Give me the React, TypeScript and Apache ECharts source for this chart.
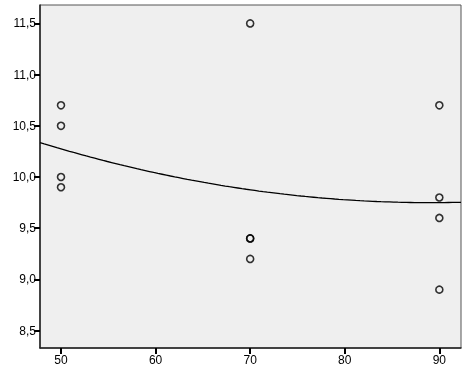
import React, { useEffect, useRef } from "react";
import * as echarts from "echarts";

const xValues = [50, 50, 50, 50, 70, 70, 70, 70, 90, 90, 90, 90];
const yValues = [10.7, 10.5, 10.0, 9.9, 11.5, 9.4, 9.4, 9.2, 10.7, 9.8, 9.6, 8.9];
const xTicks = [50, 60, 70, 80, 90];
const yTicks = [8.5, 9.0, 9.5, 10.0, 10.5, 11.0, 11.5];
const xMin = 47.78;
const xMax = 92.29;
const yMin = 8.33;
const yMax = 11.68;

function solve3(A: number[][], b: number[]): number[] {
  const M = A.map((r, i) => [...r, b[i]]);
  for (let i = 0; i < 3; i++) {
    let p = i;
    for (let k = i + 1; k < 3; k++) if (Math.abs(M[k][i]) > Math.abs(M[p][i])) p = k;
    [M[i], M[p]] = [M[p], M[i]];
    for (let k = i + 1; k < 3; k++) {
      const f = M[k][i] / M[i][i];
      for (let j = i; j < 4; j++) M[k][j] -= f * M[i][j];
    }
  }
  const x = [0, 0, 0];
  for (let i = 2; i >= 0; i--) {
    let s = M[i][3];
    for (let j = i + 1; j < 3; j++) s -= M[i][j] * x[j];
    x[i] = s / M[i][i];
  }
  return x;
}

function quadFit(xs: number[], ys: number[]): number[] {
  const S = (p: number) => xs.reduce((a, x) => a + Math.pow(x, p), 0);
  const T = (p: number) => xs.reduce((a, x, i) => a + Math.pow(x, p) * ys[i], 0);
  const A = [
    [S(0), S(1), S(2)],
    [S(1), S(2), S(3)],
    [S(2), S(3), S(4)],
  ];
  return solve3(A, [T(0), T(1), T(2)]);
}

export default function App() {
  const ref = useRef<HTMLDivElement>(null);
  useEffect(() => {
    if (!ref.current) return;
    const chart = echarts.init(ref.current, undefined, { renderer: "svg" });
    const [c0, c1, c2] = quadFit(xValues, yValues);
    const fit: number[][] = [];
    const n = 100;
    for (let i = 0; i <= n; i++) {
      const x = xMin + ((xMax - xMin) * i) / n;
      fit.push([x, c0 + c1 * x + c2 * x * x]);
    }
    const fmt = (v: number) => v.toFixed(1).replace(".", ",");
    chart.setOption({
      animation: false,
      grid: {
        left: 40,
        top: 5,
        right: 10,
        bottom: 30,
        show: true,
        backgroundColor: "#efefef",
        borderColor: "#555",
        borderWidth: 1,
      },
      xAxis: {
        type: "value",
        min: xMin,
        max: xMax,
        splitLine: { show: false },
        axisLine: { show: true, lineStyle: { color: "#222", width: 1.5 } },
        axisTick: { show: true, length: 6, customValues: xTicks, lineStyle: { color: "#000", width: 2 } },
        axisLabel: {
          customValues: xTicks,
          color: "#000",
          fontSize: 12,
          fontFamily: "Liberation Sans, Arial, sans-serif",
          margin: 6,
        },
      },
      yAxis: {
        type: "value",
        min: yMin,
        max: yMax,
        splitLine: { show: false },
        axisLine: { show: true, lineStyle: { color: "#222", width: 1.5 } },
        axisTick: { show: true, length: 6, customValues: yTicks, lineStyle: { color: "#000", width: 2 } },
        axisLabel: {
          customValues: yTicks,
          formatter: fmt,
          color: "#000",
          fontSize: 12,
          fontFamily: "Liberation Sans, Arial, sans-serif",
          margin: 4,
        },
      },
      series: [
        {
          type: "line",
          data: fit,
          showSymbol: false,
          symbol: "none",
          smooth: false,
          lineStyle: { color: "#000", width: 1.3 },
          z: 2,
        },
        {
          type: "scatter",
          data: xValues.map((x, i) => [x, yValues[i]]),
          symbol: "circle",
          symbolSize: 7,
          itemStyle: { color: "transparent", borderColor: "#000", borderWidth: 1.6 },
          z: 3,
        },
      ],
    });
    return () => chart.dispose();
  }, []);
  return (
    <div
      ref={ref}
      style={{ position: "fixed", left: 0, top: 0, width: 471, height: 378 }}
    />
  );
}
